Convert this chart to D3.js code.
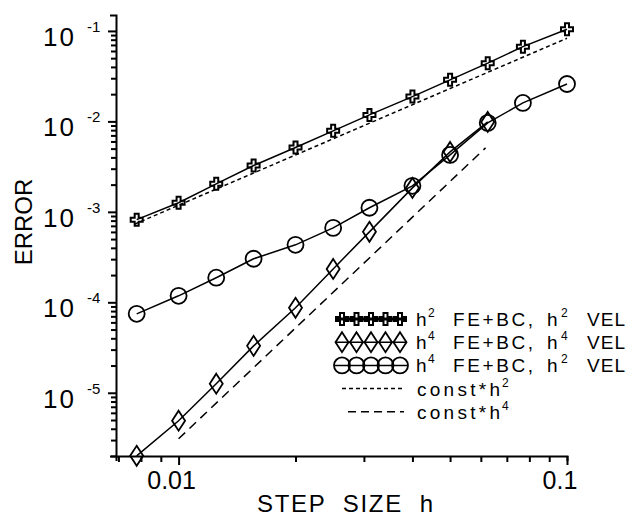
<!DOCTYPE html>
<html>
<head>
<meta charset="utf-8">
<script src="https://cdn.jsdelivr.net/npm/d3@7"></script>
<style>
    html, body { margin: 0; padding: 0; background: #fff; }
    svg { display: block; font-family: "Liberation Sans", Arial, sans-serif; }
    text { fill: #000; white-space: pre; }
</style>
</head>
<body>
<svg id="chart" width="628" height="519"></svg>
<script>
// step sizes (h) and the three error curves
var stepSizes = [0.0078, 0.01, 0.0125, 0.0156, 0.02, 0.025, 0.031, 0.04, 0.05, 0.0625, 0.077, 0.1];
var errH2H2 = [8.2e-4, 1.26e-3, 2.04e-3, 3.25e-3, 5.14e-3, 7.86e-3, 1.18e-2, 1.88e-2, 2.88e-2, 4.40e-2, 6.70e-2, 0.1045];
var errH4H4 = [2.01e-6, 4.91e-6, 1.26e-5, 3.30e-5, 8.69e-5, 2.34e-4, 6.01e-4, 1.84e-3, 4.60e-3, 9.86e-3];
var errH4H2 = [7.46e-5, 1.18e-4, 1.87e-4, 3.03e-4, 4.32e-4, 6.65e-4, 1.11e-3, 1.94e-3, 4.26e-3, 9.62e-3, 1.60e-2, 2.59e-2];

// reference slopes, end points only
var refH2Steps = [0.0077, 0.1];
var refH2Err = [7.3e-4, 0.083];
var refH4Steps = [0.01, 0.0617];
var refH4Err = [3.1e-6, 5.1e-3];

var yMajor = [1e-5, 1e-4, 1e-3, 1e-2, 1e-1];
var yMajorExp = ["-5", "-4", "-3", "-2", "-1"];
var xMajor = [0.01, 0.1];
var xMajorLabels = ["0.01", "0.1"];

var svg = d3.select("#chart");

var x = d3.scaleLog().domain([0.0069, 0.1]).range([116, 567]);
var y = d3.scaleLog().domain([2e-6, 0.15]).range([456, 15]);

function logTicks(domain) {
    var out = [];
    for (var k = -7; k <= 0; k++) {
        for (var m = 1; m <= 9; m++) {
            var v = m * Math.pow(10, k);
            if (v >= domain[0] * 0.9999 && v <= domain[1] * 1.0001) out.push(v);
        }
    }
    return out;
}
function isMajor(v) {
    var l = Math.log10(v);
    return Math.abs(l - Math.round(l)) < 1e-6;
}

// axes
var gx = svg.append("g")
    .attr("transform", "translate(0,456)")
    .call(d3.axisBottom(x).tickValues(logTicks(x.domain())).tickFormat("").tickSizeOuter(5));
gx.selectAll(".tick line").attr("y2", function (d) { return isMajor(d) ? 9 : 6; });

var gy = svg.append("g")
    .attr("transform", "translate(116,0)")
    .call(d3.axisLeft(y).tickValues(logTicks(y.domain())).tickFormat("").tickSizeOuter(6));
gy.selectAll(".tick line").attr("x2", function (d) { return isMajor(d) ? -8 : -5; });

svg.selectAll(".domain, .tick line")
    .attr("stroke", "#000")
    .attr("stroke-width", 2);

// y tick labels 10^k
yMajor.forEach(function (v, i) {
    svg.append("text")
        .attr("x", 74).attr("y", y(v) + 15)
        .attr("text-anchor", "end")
        .attr("font-size", 26)
        .attr("textLength", 31)
        .text("10");
    svg.append("text")
        .attr("x", 87).attr("y", y(v) + 1)
        .attr("font-size", 15)
        .text(yMajorExp[i]);
});

xMajor.forEach(function (v, i) {
    svg.append("text")
        .attr("x", x(v) - 7).attr("y", 489)
        .attr("text-anchor", "middle")
        .attr("font-size", 25)
        .text(xMajorLabels[i]);
});

svg.append("text")
    .attr("x", 345).attr("y", 512)
    .attr("text-anchor", "middle")
    .attr("font-size", 24)
    .attr("textLength", 176)
    .text("STEP  SIZE  h");

svg.append("text")
    .attr("transform", "translate(32,222) rotate(-90)")
    .attr("text-anchor", "middle")
    .attr("font-size", 24)
    .text("ERROR");

// markers
function crossPath(s) {
    var a = s / 6, b = s / 2;
    return "M" + (-a) + "," + (-b) + "H" + a + "V" + (-a) + "H" + b + "V" + a + "H" + a + "V" + b +
        "H" + (-a) + "V" + a + "H" + (-b) + "V" + (-a) + "H" + (-a) + "Z";
}
function diamondPath(w, h) {
    return "M0," + (-h / 2) + "L" + (w / 2) + ",0L0," + (h / 2) + "L" + (-w / 2) + ",0Z";
}

var line = d3.line()
    .x(function (d) { return x(d[0]); })
    .y(function (d) { return y(d[1]); });

function pairs(hs, es) {
    return es.map(function (e, i) { return [hs[i], e]; });
}

// reference lines
svg.append("path")
    .datum(pairs(refH2Steps, refH2Err))
    .attr("d", line)
    .attr("fill", "none").attr("stroke", "#000").attr("stroke-width", 1.5)
    .attr("stroke-dasharray", "4,3");
svg.append("path")
    .datum(pairs(refH4Steps, refH4Err))
    .attr("d", line)
    .attr("fill", "none").attr("stroke", "#000").attr("stroke-width", 1.5)
    .attr("stroke-dasharray", "9,6");

var series = [
    { data: pairs(stepSizes, errH2H2), marker: "cross" },
    { data: pairs(stepSizes, errH4H4), marker: "diamond" },
    { data: pairs(stepSizes, errH4H2), marker: "circle" }
];

function drawMarker(g, kind, cx, cy) {
    if (kind === "circle") {
        g.append("circle").attr("cx", cx).attr("cy", cy).attr("r", 8)
            .attr("fill", "none").attr("stroke", "#000").attr("stroke-width", 1.8);
    } else if (kind === "diamond") {
        g.append("path").attr("d", diamondPath(13, 20))
            .attr("transform", "translate(" + cx + "," + cy + ")")
            .attr("fill", "none").attr("stroke", "#000").attr("stroke-width", 1.8);
    } else {
        g.append("path").attr("d", crossPath(12))
            .attr("transform", "translate(" + cx + "," + cy + ")")
            .attr("fill", "none").attr("stroke", "#000").attr("stroke-width", 2);
    }
}

series.forEach(function (s) {
    svg.append("path")
        .datum(s.data)
        .attr("d", line)
        .attr("fill", "none").attr("stroke", "#000").attr("stroke-width", 1.5);
    var g = svg.append("g");
    s.data.forEach(function (d) { drawMarker(g, s.marker, x(d[0]), y(d[1])); });
});

// legend
var legendRows = [
    { marker: "cross", text: [["h", 416], ["2", 428, true], ["FE+BC,", 453], ["h", 547], ["2", 561, true], ["VEL", 587]] },
    { marker: "diamond", text: [["h", 416], ["4", 428, true], ["FE+BC,", 453], ["h", 547], ["4", 561, true], ["VEL", 587]] },
    { marker: "circle", text: [["h", 416], ["4", 428, true], ["FE+BC,", 453], ["h", 547], ["2", 561, true], ["VEL", 587]] },
    { dash: "4,3", x0: 342, text: [["const*h", 417], ["2", 502, true]] },
    { dash: "8,5", x0: 348, text: [["const*h", 417], ["4", 502, true]] }
];
var widths = { "FE+BC,": 80, "VEL": 38, "const*h": 83 };

legendRows.forEach(function (row, i) {
    var base = 326 + i * 23.2;
    var mid = base - 7;
    var g = svg.append("g");
    if (row.marker) {
        g.append("line").attr("x1", 335).attr("x2", 407).attr("y1", mid).attr("y2", mid)
            .attr("stroke", "#000").attr("stroke-width", row.marker === "cross" ? 3 : 1.5);
        for (var k = 0; k < 5; k++) drawMarker(g, row.marker, 342 + k * 14.5, mid);
    } else {
        g.append("line").attr("x1", row.x0).attr("x2", 404).attr("y1", mid).attr("y2", mid)
            .attr("stroke", "#000").attr("stroke-width", 1.5).attr("stroke-dasharray", row.dash);
    }
    row.text.forEach(function (t) {
        var el = g.append("text")
            .attr("x", t[1])
            .attr("y", t[2] ? base - 9 : base)
            .attr("font-size", t[2] ? 12 : 19)
            .text(t[0]);
        if (widths[t[0]]) el.attr("textLength", widths[t[0]]);
    });
});
</script>
</body>
</html>
